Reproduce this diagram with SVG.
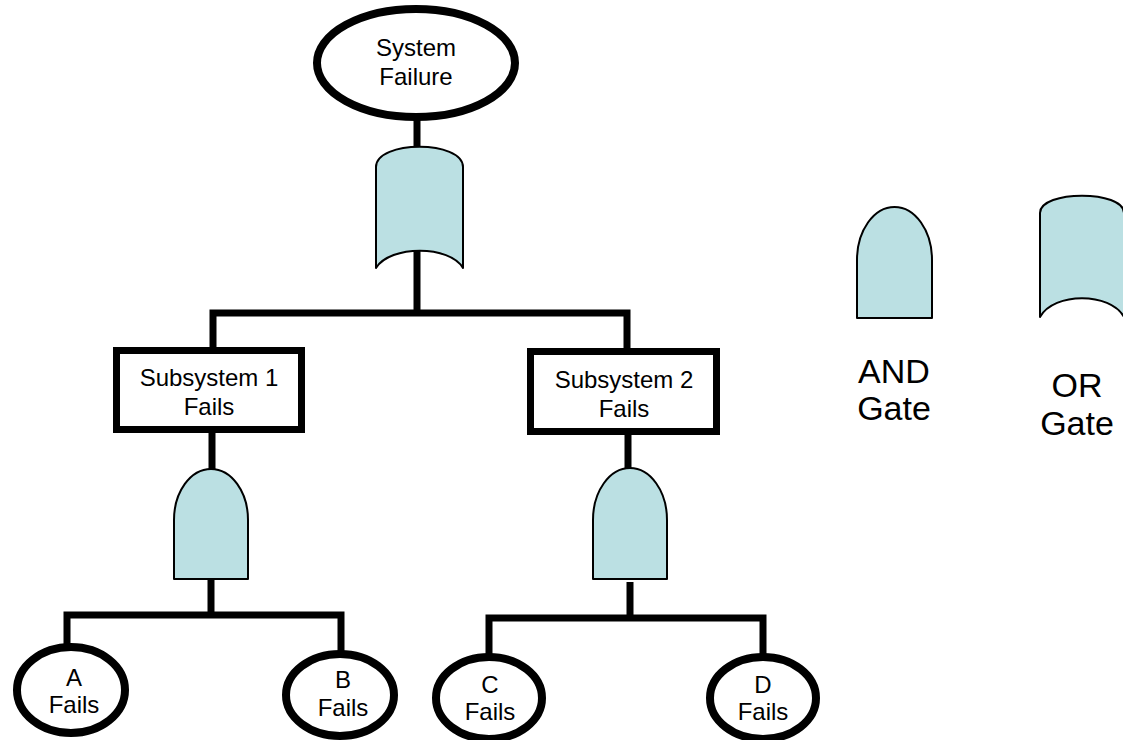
<svg xmlns="http://www.w3.org/2000/svg" width="1123" height="740" viewBox="0 0 1123 740">
  <style>
    .bg { fill: #ffffff; }
    .event { fill: #ffffff; stroke: #000000; stroke-width: 8; }
    .box { fill: #ffffff; stroke: #000000; stroke-width: 7; }
    .gate { fill: #bbe0e3; stroke: #000000; stroke-width: 2; stroke-linejoin: round; }
    .wire { fill: none; stroke: #000000; stroke-width: 7; stroke-linecap: butt; stroke-linejoin: miter; }
    .lbl { font-family: "Liberation Sans", Arial, sans-serif; font-size: 24px; fill: #000000; text-anchor: middle; }
    .key { font-family: "Liberation Sans", Arial, sans-serif; font-size: 34px; fill: #000000; text-anchor: middle; }
  </style>
  <rect class="bg" x="0" y="0" width="1123" height="740"/>

  <!-- connectors -->
  <g id="connectors">
    <path class="wire" d="M417,120 V148"/>
    <path class="wire" d="M417,250 V313"/>
    <path class="wire" d="M213,348 V313 H627 V350"/>
    <path class="wire" d="M212,433 V470"/>
    <path class="wire" d="M628,435 V469"/>
    <path class="wire" d="M211,579 V615"/>
    <path class="wire" d="M67,646 V615 H341 V652"/>
    <path class="wire" d="M630,582 V618"/>
    <path class="wire" d="M489,656 V618 H763 V656"/>
  </g>

  <!-- top event -->
  <g id="system-failure">
    <ellipse class="event" cx="416" cy="63" rx="99" ry="54"/>
    <text class="lbl" x="416" y="56">System</text>
    <text class="lbl" x="416" y="85">Failure</text>
  </g>

  <!-- OR gate under top event -->
  <g id="or-gate">
    <path class="gate" d="M376,167 C376,140 463,140 463,167 L463,268 C450,245 390,245 376,268 Z"/>
  </g>

  <!-- intermediate events -->
  <g id="subsystem-1">
    <rect class="box" x="116.5" y="350.5" width="185" height="79"/>
    <text class="lbl" x="209" y="386">Subsystem 1</text>
    <text class="lbl" x="209" y="415">Fails</text>
  </g>
  <g id="subsystem-2">
    <rect class="box" x="530.5" y="351.5" width="186" height="80"/>
    <text class="lbl" x="624" y="388">Subsystem 2</text>
    <text class="lbl" x="624" y="417">Fails</text>
  </g>

  <!-- AND gates -->
  <g id="and-gate-1">
    <path class="gate" d="M174,579 L174,520 A37,51 0 0 1 248,520 L248,579 Z"/>
  </g>
  <g id="and-gate-2">
    <path class="gate" d="M593,579 L593,520 A37,52 0 0 1 667,520 L667,579 Z"/>
  </g>

  <!-- basic events -->
  <g id="a-fails">
    <ellipse class="event" cx="71" cy="690" rx="54" ry="43"/>
    <text class="lbl" x="74" y="686">A</text>
    <text class="lbl" x="74" y="713">Fails</text>
  </g>
  <g id="b-fails">
    <ellipse class="event" cx="340" cy="695" rx="54" ry="41"/>
    <text class="lbl" x="343" y="688">B</text>
    <text class="lbl" x="343" y="716">Fails</text>
  </g>
  <g id="c-fails">
    <ellipse class="event" cx="489" cy="698" rx="53" ry="41"/>
    <text class="lbl" x="490" y="693">C</text>
    <text class="lbl" x="490" y="720">Fails</text>
  </g>
  <g id="d-fails">
    <ellipse class="event" cx="763" cy="698" rx="53" ry="41"/>
    <text class="lbl" x="763" y="693">D</text>
    <text class="lbl" x="763" y="720">Fails</text>
  </g>

  <!-- legend -->
  <g id="legend-and">
    <path class="gate" d="M857,318 L857,260 A37.5,53 0 0 1 932,260 L932,318 Z"/>
    <text class="key" x="894" y="383">AND</text>
    <text class="key" x="894" y="420">Gate</text>
  </g>
  <g id="legend-or">
    <path class="gate" d="M1040,213 C1040,190 1124,190 1124,213 L1124,317 C1110,292 1054,292 1040,317 Z"/>
    <text class="key" x="1077" y="397">OR</text>
    <text class="key" x="1077" y="435">Gate</text>
  </g>
</svg>
